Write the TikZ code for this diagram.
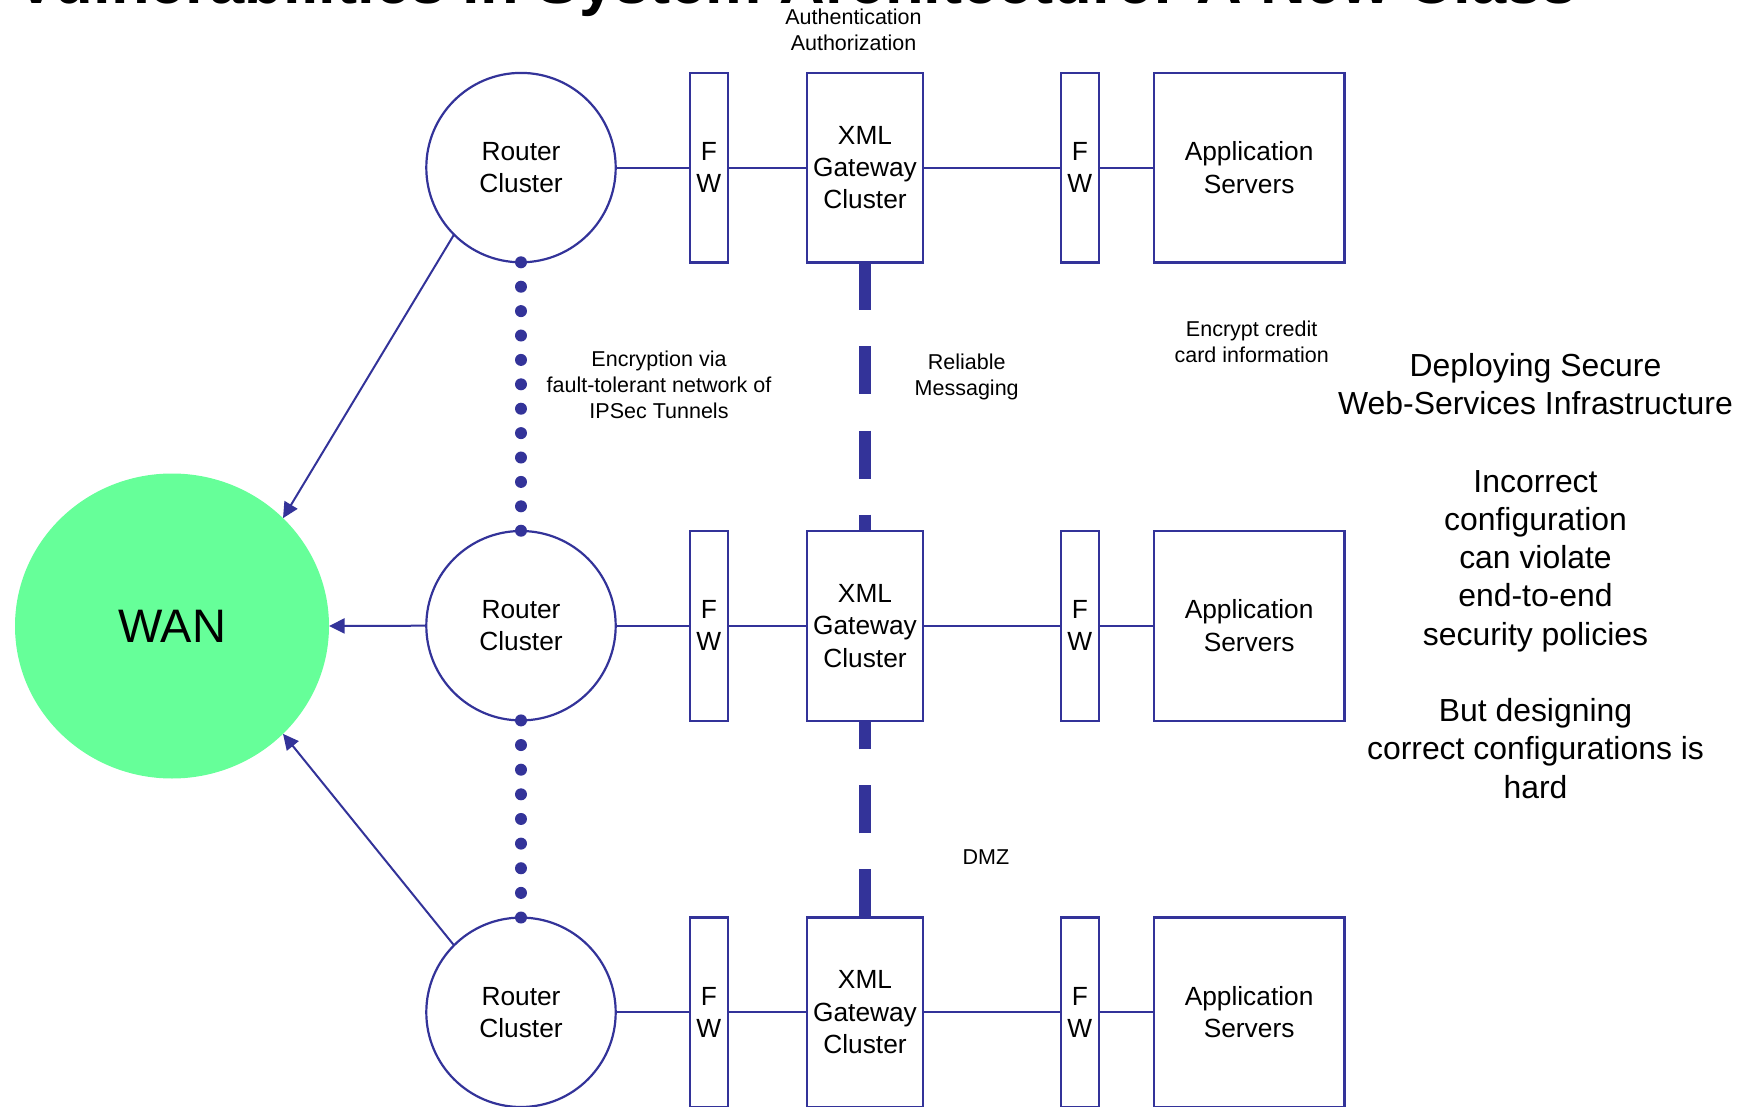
\documentclass[tikz,border=0pt]{standalone}
\usepackage{fontspec}
\setmainfont{Liberation Sans}
\usetikzlibrary{arrows.meta,shapes.geometric}
\definecolor{lineblue}{RGB}{51,51,153}
\definecolor{wangreen}{RGB}{102,255,153}
\begin{document}
\begin{tikzpicture}[x=0.5pt,y=-0.5pt,
  every node/.style={inner sep=0pt,outer sep=0pt},
  nodefont/.style={font=\fontsize{13.15}{16.2}\selectfont},
  router/.style={circle,draw=lineblue,line width=1.1pt,minimum size=94.7pt,align=center,nodefont},
  fwbox/.style={rectangle,draw=lineblue,line width=1.1pt,minimum width=18.9pt,minimum height=94.9pt,align=center,nodefont},
  xmlbox/.style={rectangle,draw=lineblue,line width=1.1pt,minimum width=58.1pt,minimum height=94.9pt,align=center,nodefont},
  appbox/.style={rectangle,draw=lineblue,line width=1.1pt,minimum width=95.3pt,minimum height=94.9pt,align=center,nodefont},
  wanstyle/.style={ellipse,fill=wangreen,minimum width=157pt,minimum height=152.5pt,font=\fontsize{23.5}{28}\selectfont},
  smalltext/.style={align=center,font=\fontsize{10.75}{13}\selectfont},
  bigtext/.style={align=center,font=\fontsize{15.95}{19.15}\selectfont},
  conn/.style={draw=lineblue,line width=1pt},
  arrowconn/.style={conn,-{Triangle[length=7.8pt,width=7.5pt]}},
  dotsA/.style={draw=lineblue,line width=6pt,line cap=round,dash pattern=on 0.01pt off 12.19pt},
  dotsB/.style={draw=lineblue,line width=6pt,line cap=round,dash pattern=on 0.01pt off 12.31pt},
  thickdash/.style={draw=lineblue,line width=6pt,dash pattern=on 24pt off 18pt}
]
\useasboundingbox (0,0) rectangle (1752,1107);

% title (cut off at top)
\node[anchor=base,font=\bfseries\fontsize{31.65}{38}\selectfont] (title) at (796,4) {Vulnerabilities in System Architecture: A New Class};

% WAN
\node[wanstyle] (wan) at (172,626) {WAN};

% rows
\foreach \r/\y in {1/167.6,2/625.7,3/1012.3}{
  \node[router] (r\r) at (521,\y) {Router\\Cluster};
  \node[fwbox] (fa\r) at (708.8,\y) {F\\W};
  \node[xmlbox] (x\r) at (865,\y) {XML\\Gateway\\Cluster};
  \node[fwbox] (fb\r) at (1079.8,\y) {F\\W};
  \node[appbox] (a\r) at (1249.1,\y) {Application\\Servers};
  \draw[conn] (r\r) -- (fa\r);
  \draw[conn] (fa\r) -- (x\r);
  \draw[conn] (x\r) -- (fb\r);
  \draw[conn] (fb\r) -- (a\r);
}

% arrows to WAN
\draw[arrowconn] (r1.south west) -- (wan.north east);
\draw[arrowconn] (r2.west) -- (wan.east);
\draw[arrowconn] (r3.north west) -- (wan.south east);

% dotted IPSec links
\draw[dotsA] (r1.south) -- (r2.north);
\draw[dotsB] (r2.south) -- (r3.north);

% dashed reliable messaging links
\draw[thickdash] (x1.south) -- (x2.north);
\draw[thickdash] (x3.north) -- (x2.south);

% labels
\node[smalltext] (auth) at (853.5,29.7) {Authentication\\Authorization};
\node[smalltext] (enc) at (659,384.7) {Encryption via\\fault-tolerant network of\\IPSec Tunnels};
\node[smalltext] (rel) at (966.7,376.5) {Reliable\\Messaging};
\node[smalltext] (cc) at (1251.7,341.5) {Encrypt credit\\card information};
\node[smalltext] (dmz) at (986,856.7) {DMZ};

% right-hand text
\node[bigtext] (rt1) at (1535.5,384) {Deploying Secure\\Web-Services Infrastructure};
\node[bigtext] (rt2) at (1535.5,561) {Incorrect\\configuration\\can violate\\end-to-end\\security policies};
\node[bigtext] (rt3) at (1535.5,748.3) {But designing\\correct configurations is\\hard};
\end{tikzpicture}
\end{document}
